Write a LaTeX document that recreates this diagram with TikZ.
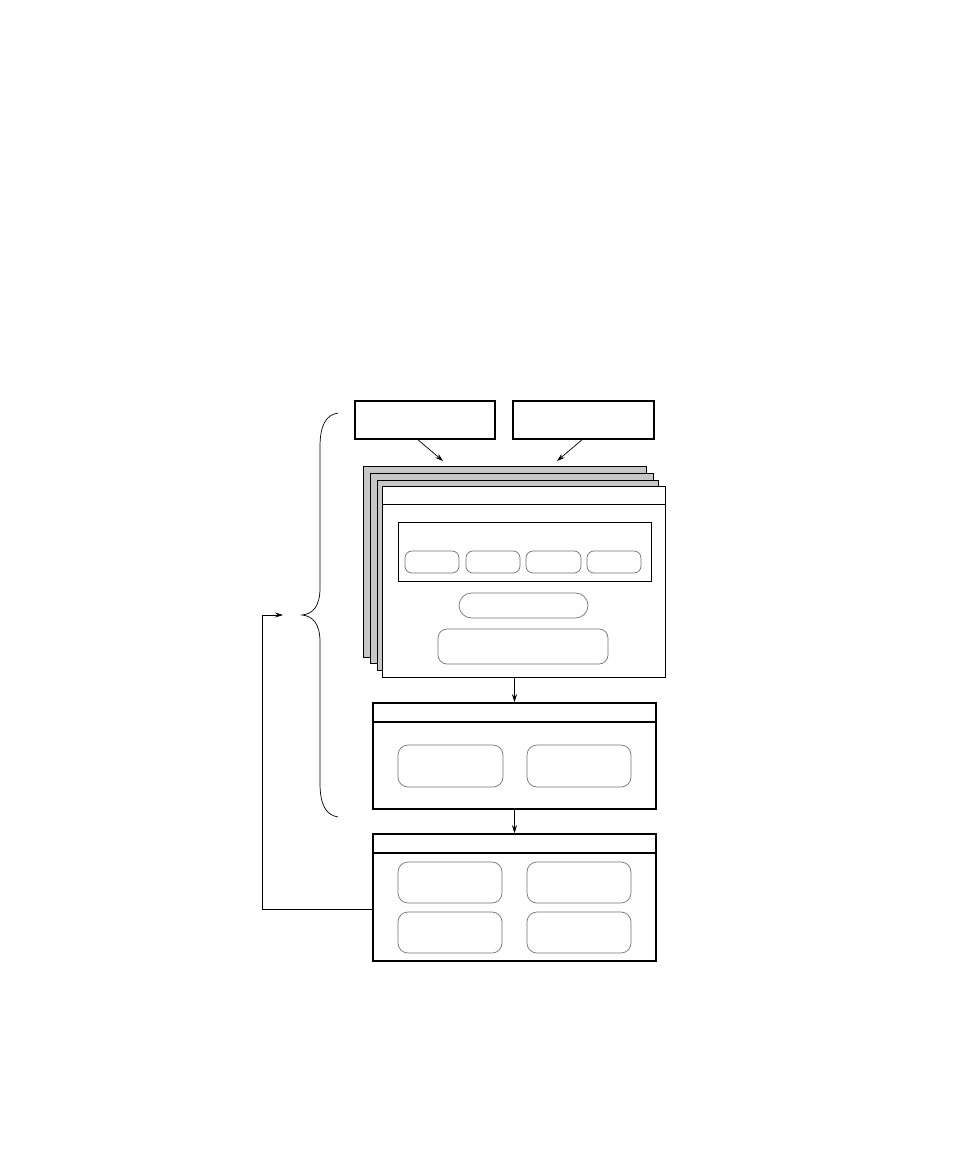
\documentclass[tikz,border=0pt]{standalone}
\usepackage{xcolor}
\usepackage{tikz}
\usetikzlibrary{arrows.meta, positioning, calc}

\definecolor{sheetgray}{gray}{0.78}
\definecolor{roundgray}{gray}{0.45}

\tikzset{
    blockbox/.style={rectangle,draw,line width=1.6pt,fill=white,inner sep=0pt},
    sheetbox/.style={rectangle,draw,line width=1pt,fill=sheetgray,inner sep=0pt},
    roundbox/.style={rectangle,draw=roundgray,line width=0.7pt,rounded corners=7pt,inner sep=0pt},
    flow/.style={line width=0.7pt,-{Stealth[length=8pt,width=5pt]}}
}

\begin{document}
\begin{tikzpicture}[x=1pt,y=-1pt]
    \useasboundingbox (0,0) rectangle (959,1159);

    % inputs
    \node[blockbox,minimum width=140pt,minimum height=38pt] (inA) at (425,420) {};
    \node[blockbox,minimum width=141pt,minimum height=38pt] (inB) at (583.5,420) {};
    \coordinate (inAend) at (443,461);
    \coordinate (inBend) at (557,461);

    % stacked sheets
    \node[sheetbox,minimum width=283pt,minimum height=191pt] (sheetC) at (504.5,562) {};
    \node[sheetbox,minimum width=283pt,minimum height=190pt] (sheetB) at (511.5,568) {};
    \node[sheetbox,minimum width=281pt,minimum height=190pt] (sheetA) at (517.5,575) {};
    \node[sheetbox,fill=white,minimum width=283pt,minimum height=191pt] (front) at (523.5,581.5) {};
    \draw[line width=1pt] ($(front.north west)+(0,19)$) -- ($(front.north east)+(0,19)$);

    \node[rectangle,draw,line width=1pt,minimum width=253pt,minimum height=59pt] (inner) at (524.5,551.5) {};
    \node[roundbox,minimum width=54pt,minimum height=22pt] (part1) at (432,562) {};
    \node[roundbox,minimum width=54pt,minimum height=22pt] (part2) at (493,562) {};
    \node[roundbox,minimum width=55pt,minimum height=22pt] (part3) at (553.5,562) {};
    \node[roundbox,minimum width=54pt,minimum height=22pt] (part4) at (614,562) {};
    \node[roundbox,rounded corners=12.5pt,minimum width=129pt,minimum height=25pt] (pill) at (523.5,605.5) {};
    \node[roundbox,rounded corners=9pt,minimum width=170pt,minimum height=35pt] (wide) at (523,646.5) {};

    % middle block
    \node[blockbox,minimum width=283pt,minimum height=106pt] (mid) at (514.5,756) {};
    \draw[line width=1.6pt] ($(mid.north west)+(0,20)$) -- ($(mid.north east)+(0,20)$);
    \node[roundbox,rounded corners=10pt,minimum width=105pt,minimum height=42pt] (mid1) at (450.5,766) {};
    \node[roundbox,rounded corners=10pt,minimum width=104pt,minimum height=42pt] (mid2) at (579,766) {};

    % bottom block
    \node[blockbox,minimum width=283pt,minimum height=127pt] (low) at (514.5,897.5) {};
    \draw[line width=1.6pt] ($(low.north west)+(0,20)$) -- ($(low.north east)+(0,20)$);
    \node[roundbox,rounded corners=10pt,minimum width=104pt,minimum height=41pt] (low1) at (450,882.5) {};
    \node[roundbox,rounded corners=10pt,minimum width=104pt,minimum height=41pt] (low2) at (579,882.5) {};
    \node[roundbox,rounded corners=10pt,minimum width=104pt,minimum height=41pt] (low3) at (450,932.5) {};
    \node[roundbox,rounded corners=10pt,minimum width=104pt,minimum height=41pt] (low4) at (579,932.5) {};

    % connectors
    \draw[flow] ($(inA.south)+(-7,0)$) -- (inAend);
    \draw[flow] ($(inB.south)+(-1.5,0)$) -- (inBend);
    \draw[flow] (front.south -| mid.north) -- (mid.north);
    \draw[flow] (mid.south) -- (low.north);

    \coordinate (fbend) at (283,615);
    \draw[flow] ($(low.west)+(0,11.5)$) -| ($(fbend)+(-21,0)$) -- (fbend);

    % brace
    \draw[line width=0.7pt] (338,413) .. controls (326,415) and (320,425) .. (320,447) -- (320,588)
        .. controls (320,606) and (313,614) .. (302,615)
        .. controls (313,616) and (320,624) .. (320,642) -- (320,783)
        .. controls (320,805) and (326,815) .. (338,817);
\end{tikzpicture}
\end{document}
